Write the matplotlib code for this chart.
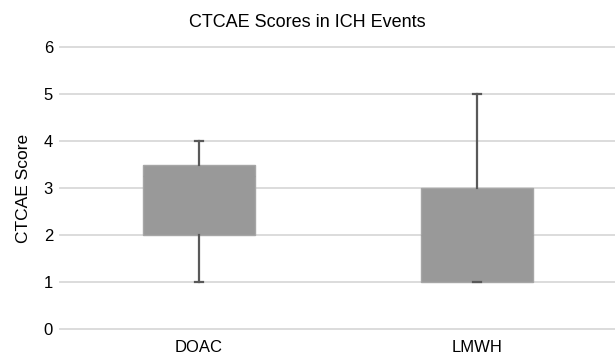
import matplotlib
matplotlib.use("Agg")
import matplotlib.pyplot as plt

plt.rcParams['font.family'] = ['Liberation Sans', 'DejaVu Sans']

categories = ["DOAC", "LMWH"]
whisker_low = [1, 1]
q1 = [2, 1]
median = [3.25, 2]
q3 = [3.5, 3]
whisker_high = [4, 5]
yticks = [0, 1, 2, 3, 4, 5, 6]

fig = plt.figure(figsize=(6.15, 3.56), dpi=100)
ax = fig.add_axes([60/615, 1-329/356, 556/615, (329-47)/356])

stats = []
for i, c in enumerate(categories):
    stats.append(dict(label=c, whislo=whisker_low[i], q1=q1[i], med=median[i],
                      q3=q3[i], whishi=whisker_high[i], fliers=[]))

box_color = "#999999"
ax.bxp(stats, positions=[0, 1], widths=0.4, patch_artist=True, showfliers=False,
       boxprops=dict(facecolor=box_color, edgecolor="#a6a6a6", linewidth=1),
       medianprops=dict(color=box_color, linewidth=0.8),
       whiskerprops=dict(color="#595959", linewidth=1.6),
       capprops=dict(color="#595959", linewidth=1.6),
       capwidths=0.03, zorder=3)

ax.set_xlim(-0.5, 1.5)
ax.set_ylim(0, 6)
ax.set_yticks(yticks)
ax.yaxis.grid(True, color="#d9d9d9", linewidth=1.3, zorder=0)
ax.set_axisbelow(True)
for s in ax.spines.values():
    s.set_visible(False)
ax.tick_params(axis='both', length=0, labelsize=12, colors="#000000")
ax.tick_params(axis='y', pad=5)
ax.tick_params(axis='x', pad=8)
for gl in ax.get_ygridlines():
    gl.set_clip_on(False)
ax.set_xticks([0, 1])
ax.set_xticklabels(categories)
ax.set_ylabel("CTCAE Score", fontsize=12.5, labelpad=9)
fig.text(0.5, 1-27/356, "CTCAE Scores in ICH Events", ha="center", va="baseline", fontsize=13)

fig.savefig("out.png", dpi=100)
